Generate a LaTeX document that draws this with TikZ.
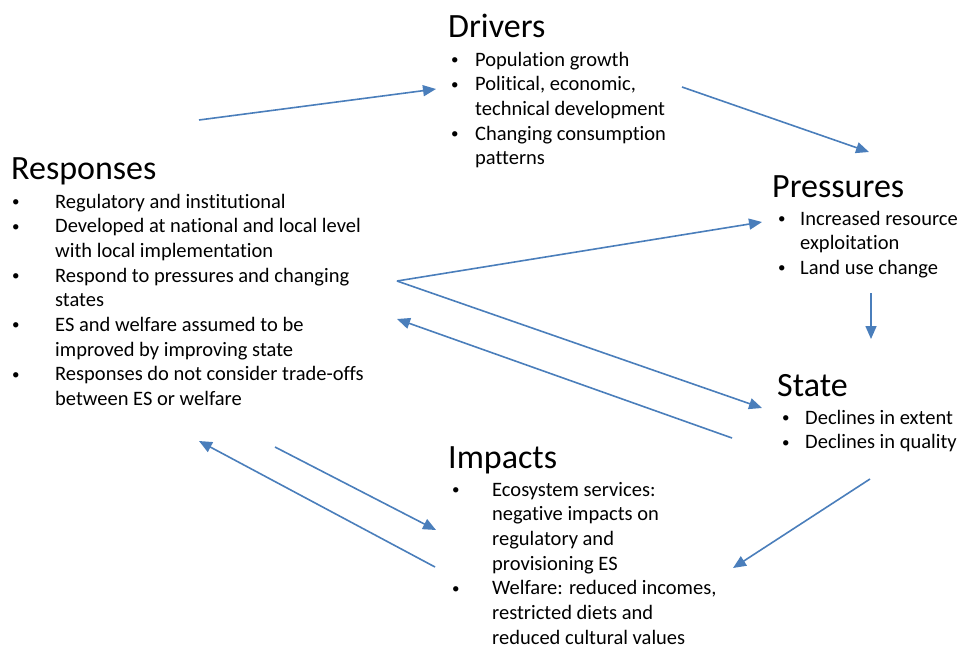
\documentclass[tikz,border=0pt]{standalone}
\usepackage{fontspec}
\setmainfont{Carlito}[Ligatures={NoCommon}]
\usetikzlibrary{arrows.meta}
\definecolor{arrowblue}{HTML}{4A7EBB}
\newcommand{\itm}{\raisebox{1.6pt}{\fontsize{15}{15}\selectfont\textbullet}}

\begin{document}
\begin{tikzpicture}[x=1pt,y=-1pt,->,>={Triangle[length=13pt,width=11pt]},
  flow/.style={draw=arrowblue,fill=arrowblue,line width=1.6pt},
  head node/.style={anchor=base west,inner sep=0pt,font=\fontsize{34}{40}\selectfont},
  list node/.style={anchor=base west,inner sep=0pt,font=\fontsize{20.5}{24.7}\selectfont}]

  \useasboundingbox (0,0) rectangle (960,645);

  % Drivers
  \node[head node] (drv) at (448,37) {Drivers};
  \node[list node] (drvlist) at (451,66) {\begin{tabular}[t]{@{}p{24pt}@{}l@{}}
    \itm & Population growth\\
    \itm & Political, economic,\\
         & technical development\\
    \itm & Changing consumption\\
         & patterns
  \end{tabular}};

  % Responses
  \node[head node] (rsp) at (11,179) {Responses};
  \node[list node] (rsplist) at (12,208) {\begin{tabular}[t]{@{}p{43pt}@{}l@{}}
    \itm & Regulatory and institutional\\
    \itm & Developed at national and local level\\
         & with local implementation\\
    \itm & Respond to pressures and changing\\
         & states\\
    \itm & ES and welfare assumed to be\\
         & improved by improving state\\
    \itm & Responses do not consider trade-offs\\
         & between ES or welfare
  \end{tabular}};

  % Pressures
  \node[head node] (prs) at (772,197) {Pressures};
  \node[list node] (prslist) at (778,225) {\begin{tabular}[t]{@{}p{22pt}@{}l@{}}
    \itm & Increased resource\\
         & exploitation\\
    \itm & Land use change
  \end{tabular}};

  % State
  \node[head node] (sta) at (777,396) {State};
  \node[list node] (stalist) at (782,424) {\begin{tabular}[t]{@{}p{23pt}@{}l@{}}
    \itm & Declines in extent\\
    \itm & Declines in quality
  \end{tabular}};

  % Impacts
  \node[head node] (imp) at (448,468) {Impacts};
  \node[list node] (implist) at (452,496) {\begin{tabular}[t]{@{}p{40pt}@{}l@{}}
    \itm & Ecosystem services:\\
         & negative impacts on\\
         & regulatory and\\
         & provisioning ES\\
    \itm & Welfare: reduced incomes,\\
         & restricted diets and\\
         & reduced cultural values\\[-7pt]
  \end{tabular}};

  % arrow ends
  \coordinate (rsp2drv a) at (199,120);
  \coordinate (rsp2drv b) at (436,89);
  \coordinate (drv2prs a) at (682,87);
  \coordinate (drv2prs b) at (869,152);
  \coordinate (rsphub) at (397,281);
  \coordinate (hub2prs) at (762,222);
  \coordinate (hub2sta) at (762,408);
  \coordinate (sta2rsp a) at (732,438);
  \coordinate (sta2rsp b) at (397,319);
  \coordinate (prs2sta a) at (871,293);
  \coordinate (prs2sta b) at (871,339);
  \coordinate (sta2imp a) at (870,479);
  \coordinate (sta2imp b) at (733,568);
  \coordinate (rsp2imp a) at (275,447);
  \coordinate (rsp2imp b) at (436,530);
  \coordinate (imp2rsp a) at (435,567);
  \coordinate (imp2rsp b) at (199,441);

  \draw[flow] (rsp2drv a) -- (rsp2drv b);
  \draw[flow] (drv2prs a) -- (drv2prs b);
  \draw[flow] (rsphub) -- (hub2prs);
  \draw[flow] (rsphub) -- (hub2sta);
  \draw[flow] (sta2rsp a) -- (sta2rsp b);
  \draw[flow] (prs2sta a) -- (prs2sta b);
  \draw[flow] (sta2imp a) -- (sta2imp b);
  \draw[flow] (rsp2imp a) -- (rsp2imp b);
  \draw[flow] (imp2rsp a) -- (imp2rsp b);
\end{tikzpicture}
\end{document}
